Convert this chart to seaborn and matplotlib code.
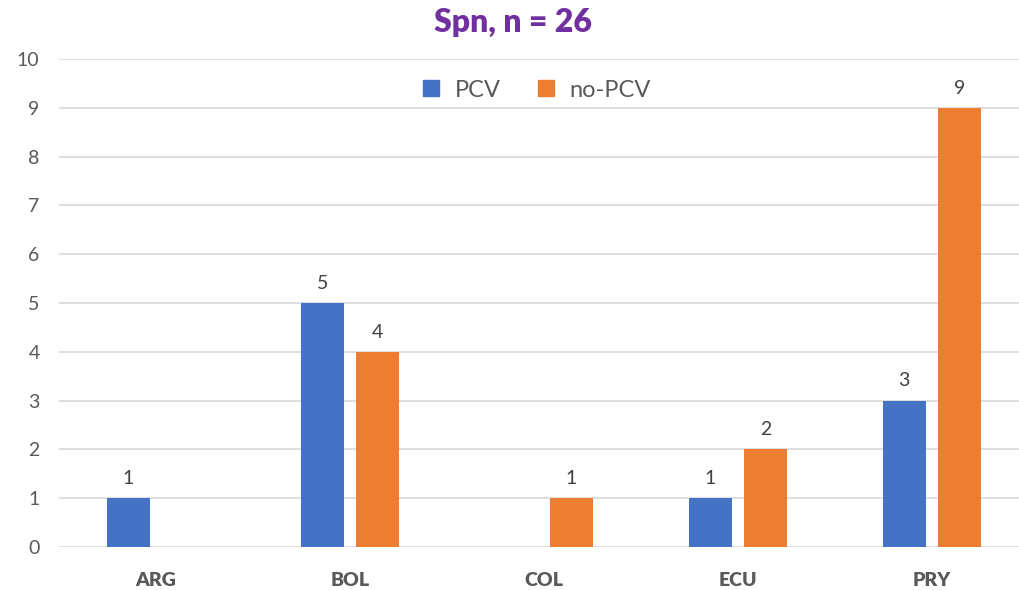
import matplotlib
matplotlib.use("Agg")
import matplotlib.pyplot as plt
import seaborn as sns
import pandas as pd
from matplotlib.lines import Line2D

countries = ["ARG", "BOL", "COL", "ECU", "PRY"]
pcv = [1, 5, 0, 1, 3]
no_pcv = [0, 4, 1, 2, 9]
series_names = ["PCV", "no-PCV"]
title = "Spn, n = 26"

df = pd.DataFrame({
    "country": countries * 2,
    "value": pcv + no_pcv,
    "group": [series_names[0]] * len(countries) + [series_names[1]] * len(countries),
})

sns.set_theme(style="white")
plt.rcParams["font.family"] = ["Lato", "DejaVu Sans"]

blue = "#4472C4"
orange = "#ED7D31"
tick_col = "#595959"

fig = plt.figure(figsize=(10.19, 5.9), dpi=100)
ax = fig.add_axes([59 / 1019, 43 / 590, 960 / 1019, 488 / 590])

sns.barplot(data=df, x="country", y="value", hue="group",
            palette=[blue, orange], width=0.567, gap=0.22,
            saturation=1, legend=False, linewidth=0, ax=ax)

ax.set_xlim(-0.5, 4.45)
ax.set_ylim(0, 10)
ax.set_yticks(range(0, 11))
ax.yaxis.grid(True, color="#D9D9D9", linewidth=1.2)
ax.set_axisbelow(True)
for s in ax.spines.values():
    s.set_visible(False)
ax.set_xlabel("")
ax.set_ylabel("")
ax.tick_params(axis="y", length=0, pad=14, labelsize=14, labelcolor=tick_col)
ax.tick_params(axis="x", length=0, pad=18, labelsize=14, labelcolor=tick_col)
for lab in ax.get_xticklabels():
    lab.set_fontweight("heavy")

for cont in ax.containers:
    labels = [f"{b.get_height():g}" if b.get_height() > 0 else "" for b in cont]
    ax.bar_label(cont, labels=labels, padding=8, fontsize=14, color="#404040")

handles = [Line2D([0], [0], marker="s", linestyle="", markersize=11,
                  markerfacecolor=c, markeredgecolor=c) for c in (blue, orange)]
ax.legend(handles, series_names, loc="center", bbox_to_anchor=(0.49, 0.936),
          ncol=2, frameon=False, fontsize=17, handletextpad=0.0,
          columnspacing=0.9, labelcolor=tick_col)

fig.text(513 / 1019, 1 - 22 / 590, title, ha="center", va="center",
         fontsize=23, fontweight="heavy", color="#7030A0")

fig.savefig("out.png", dpi=100)
